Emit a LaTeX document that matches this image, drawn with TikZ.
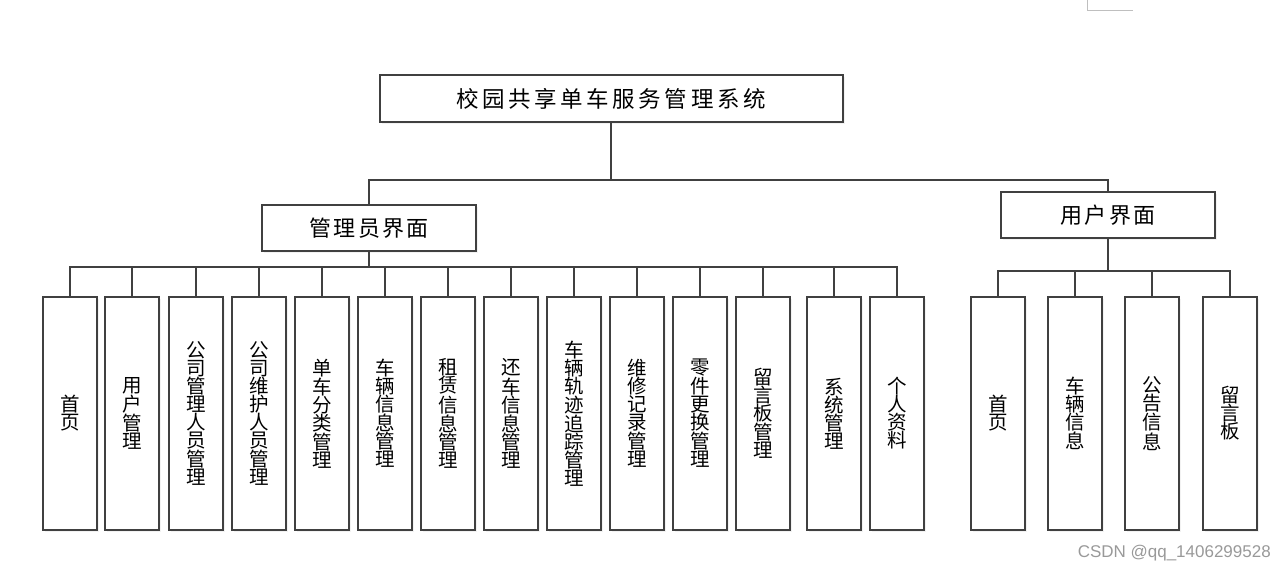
\documentclass[tikz,border=0pt]{standalone}
\usepackage{fontspec}
\setmainfont{Noto Sans CJK SC}
\newfontfamily\latinfont{Liberation Sans}
\usetikzlibrary{positioning, shadows}

\begin{document}
\begin{tikzpicture}[
x=1pt, y=-1pt,
every node/.style={align=center, inner sep=0pt},
box/.style={rectangle, draw=black!75, line width=2pt, fill=white,
  drop shadow={shadow xshift=2pt, shadow yshift=-2pt, fill=black!10}},
title/.style={box, minimum width=463pt, minimum height=47pt,
  font=\fontsize{22.5}{24}\selectfont\addfontfeature{LetterSpace=16}},
module/.style={box, minimum width=214pt, minimum height=46pt,
  font=\fontsize{22}{24}\selectfont\addfontfeature{LetterSpace=10}},
leaf/.style={box, minimum width=54pt, minimum height=233pt,
  font=\fontsize{19.5}{18}\selectfont},
conn/.style={draw=black!75, line width=2pt}
]
\useasboundingbox (0,0) rectangle (1285,572);

% SISTEMA
\node (sys) [title] at (611,98.5) {校园共享单车服务管理系统};

% INTERFACES
\node (admin) [module] at (369,228) {管理员界面};
\node (user) [module] at (1108,215) {用户界面};

% MODULOS ADMIN
\node (home) [leaf] at (70,413.5) {首\\页};
\node (users) [leaf] at (132,413.5) {用\\户\\管\\理};
\node (companyAdmins) [leaf] at (196,413.5) {公\\司\\管\\理\\人\\员\\管\\理};
\node (companyMaint) [leaf] at (259,413.5) {公\\司\\维\\护\\人\\员\\管\\理};
\node (bikeTypes) [leaf] at (322,413.5) {单\\车\\分\\类\\管\\理};
\node (vehicles) [leaf] at (385,413.5) {车\\辆\\信\\息\\管\\理};
\node (rentals) [leaf] at (448,413.5) {租\\赁\\信\\息\\管\\理};
\node (returns) [leaf] at (511,413.5) {还\\车\\信\\息\\管\\理};
\node (tracking) [leaf] at (574,413.5) {车\\辆\\轨\\迹\\追\\踪\\管\\理};
\node (repairs) [leaf] at (637,413.5) {维\\修\\记\\录\\管\\理};
\node (parts) [leaf] at (700,413.5) {零\\件\\更\\换\\管\\理};
\node (board) [leaf] at (763,413.5) {留\\言\\板\\管\\理};
\node (system) [leaf] at (834,413.5) {系\\统\\管\\理};
\node (profile) [leaf] at (897,413.5) {个\\人\\资\\料};

% MODULOS USUARIO
\node (userHome) [leaf] at (998,413.5) {首\\页};
\node (userVehicles) [leaf] at (1075,413.5) {车\\辆\\信\\息};
\node (userNotices) [leaf] at (1152,413.5) {公\\告\\信\\息};
\node (userBoard) [leaf] at (1230,413.5) {留\\言\\板};

% BARRAS
\coordinate (busTop) at (611,180);
\coordinate (busAdmin) at (369,267);
\coordinate (busUser) at (1108,271);

% LINEAS
\draw[conn] (sys.south) -- (busTop);
\draw[conn] (busTop) -| (admin.north);
\draw[conn] (busTop) -| (user.north);

% Admin
\draw[conn] (admin.south) -- (busAdmin);
\draw[conn] (busAdmin) -| (home.north);
\draw[conn] (busAdmin) -| (users.north);
\draw[conn] (busAdmin) -| (companyAdmins.north);
\draw[conn] (busAdmin) -| (companyMaint.north);
\draw[conn] (busAdmin) -| (bikeTypes.north);
\draw[conn] (busAdmin) -| (vehicles.north);
\draw[conn] (busAdmin) -| (rentals.north);
\draw[conn] (busAdmin) -| (returns.north);
\draw[conn] (busAdmin) -| (tracking.north);
\draw[conn] (busAdmin) -| (repairs.north);
\draw[conn] (busAdmin) -| (parts.north);
\draw[conn] (busAdmin) -| (board.north);
\draw[conn] (busAdmin) -| (system.north);
\draw[conn] (busAdmin) -| (profile.north);

% Usuario
\draw[conn] (user.south) -- (busUser);
\draw[conn] (busUser) -| (userHome.north);
\draw[conn] (busUser) -| (userVehicles.north);
\draw[conn] (busUser) -| (userNotices.north);
\draw[conn] (busUser) -| (userBoard.north);

% marca
\draw[black!25, line width=0.8pt] (1087,0) -- (1087,10) -- (1133,10);
\node (watermark) [anchor=east, text=black!40, font=\latinfont\fontsize{17}{17}\selectfont] at (1271,553) {CSDN @qq\_1406299528};

\end{tikzpicture}
\end{document}
